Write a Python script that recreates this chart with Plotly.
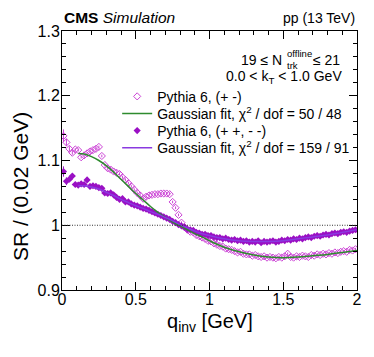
"""SR vs q_inv for Pythia 6 like-sign and unlike-sign pairs, CMS style."""

import numpy as np
import plotly.graph_objects as go

# bin centres of the q_inv histogram (0.02 GeV bins from 0 to 2 GeV)
BIN_WIDTH = 0.02
q_bins = np.round(np.arange(BIN_WIDTH / 2, 2.0, BIN_WIDTH), 3)

# Pythia 6, unlike-sign (+ -)
sr_unlike = [
    1.138, 1.128, 1.118, 1.112, 1.117, 1.116, 1.105, 1.108, 1.111, 1.114,
    1.116, 1.118, 1.121, 1.107, 1.093, 1.088, 1.086, 1.083, 1.081, 1.079,
    1.074, 1.070, 1.065, 1.060, 1.055, 1.050, 1.046, 1.041, 1.044, 1.046,
    1.047, 1.048, 1.048, 1.049, 1.049, 1.049, 1.048, 1.036, 1.027, 1.016,
    1.004, 0.997, 0.993, 0.990, 0.989, 0.985, 0.983, 0.981, 0.979, 0.976,
    0.975, 0.972, 0.970, 0.968, 0.967, 0.964, 0.963, 0.962, 0.960, 0.958,
    0.959, 0.956, 0.955, 0.955, 0.953, 0.954, 0.952, 0.951, 0.952, 0.950,
    0.951, 0.950, 0.949, 0.951, 0.950, 0.952, 0.956, 0.951, 0.950, 0.952,
    0.951, 0.953, 0.952, 0.951, 0.954, 0.953, 0.955, 0.954, 0.956, 0.955,
    0.957, 0.956, 0.958, 0.957, 0.959, 0.960, 0.959, 0.962, 0.961, 0.963,
]
err_unlike = [0.010, 0.006, 0.004, 0.003] + [0.002] * 96

# Pythia 6, like-sign (+ +, - -)
sr_like = [
    1.083, 1.068, 1.071, 1.076, 1.063, 1.062, 1.064, 1.063, 1.070, 1.060,
    1.061, 1.060, 1.058, 1.057, 1.050, 1.049, 1.050, 1.047, 1.043, 1.040,
    1.041, 1.036, 1.036, 1.033, 1.031, 1.030, 1.028, 1.026, 1.025, 1.023,
    1.021, 1.019, 1.017, 1.015, 1.013, 1.011, 1.009, 1.006, 1.004, 1.001,
    0.999, 0.997, 0.994, 0.993, 0.992, 0.989, 0.988, 0.986, 0.986, 0.984,
    0.984, 0.982, 0.981, 0.981, 0.979, 0.980, 0.978, 0.977, 0.978, 0.976,
    0.977, 0.975, 0.976, 0.974, 0.975, 0.974, 0.976, 0.973, 0.975, 0.974,
    0.975, 0.976, 0.974, 0.975, 0.977, 0.976, 0.978, 0.977, 0.979, 0.978,
    0.980, 0.979, 0.981, 0.982, 0.981, 0.983, 0.984, 0.983, 0.985, 0.986,
    0.985, 0.987, 0.988, 0.987, 0.989, 0.990, 0.989, 0.991, 0.992, 0.993,
]
err_like = [0.008, 0.006, 0.004, 0.003] + [0.002] * 96

# Gaussian fits, sampled along q_inv
fit_unlike_q = [0.11, 0.15, 0.20, 0.25, 0.30, 0.35, 0.40, 0.45, 0.50, 0.55,
                0.60, 0.65, 0.70, 0.75, 0.80, 0.85, 0.90, 0.95, 1.00, 1.10,
                1.20, 1.30, 1.40, 1.50, 1.60, 1.70, 1.80, 1.90, 2.00]
fit_unlike_sr = [1.111, 1.110, 1.106, 1.100, 1.092, 1.082, 1.071, 1.060, 1.049, 1.039,
                 1.029, 1.020, 1.012, 1.005, 0.999, 0.993, 0.987, 0.982, 0.976, 0.966,
                 0.959, 0.954, 0.951, 0.950, 0.951, 0.953, 0.955, 0.958, 0.961]

fit_like_q = fit_unlike_q
fit_like_sr = [1.061, 1.061, 1.059, 1.056, 1.051, 1.046, 1.040, 1.035, 1.030, 1.026,
               1.021, 1.017, 1.012, 1.007, 1.001, 0.996, 0.991, 0.987, 0.984, 0.979,
               0.976, 0.975, 0.975, 0.976, 0.979, 0.982, 0.985, 0.989, 0.993]

x_ticks = [0, 0.5, 1, 1.5, 2]
x_ticktext = ["0", "0.5", "1", "1.5", "2"]
y_ticks = [0.9, 1.0, 1.1, 1.2, 1.3]
y_ticktext = ["0.9", "1", "1.1", "1.2", "1.3"]

FONT = "Liberation Sans, Arial, Helvetica, sans-serif"
C_UNLIKE = "#cc44d6"
C_LIKE = "#9a10c4"
C_FIT_UNLIKE = "#2e8b2e"
C_FIT_LIKE = "#8a3ae0"

fig = go.Figure()

fig.add_trace(go.Scatter(
    x=q_bins, y=sr_unlike, mode="markers", name="Pythia 6, (+ -)",
    marker=dict(symbol="diamond-open", size=5.5, color=C_UNLIKE, line=dict(width=1)),
    error_y=dict(type="data", array=err_unlike, color=C_UNLIKE, thickness=1, width=0),
    legend="legend",
))
fig.add_trace(go.Scatter(
    x=q_bins, y=sr_like, mode="markers", name="Pythia 6, (+ +, - -)",
    marker=dict(symbol="diamond", size=5.5, color=C_LIKE),
    error_y=dict(type="data", array=err_like, color=C_LIKE, thickness=1, width=0),
    legend="legend3",
))
fig.add_trace(go.Scatter(
    x=fit_unlike_q, y=fit_unlike_sr, mode="lines",
    name="Gaussian fit, χ<sup>2</sup> / dof = 50 / 48",
    line=dict(color=C_FIT_UNLIKE, width=1.5, shape="spline"),
    legend="legend2",
))
fig.add_trace(go.Scatter(
    x=fit_like_q, y=fit_like_sr, mode="lines",
    name="Gaussian fit, χ<sup>2</sup> / dof = 159 / 91",
    line=dict(color=C_FIT_LIKE, width=1.5, shape="spline"),
    legend="legend4",
))

fig.add_hline(y=1.0, line=dict(color="#333333", width=1, dash="1px,1.5px"))

axis_common = dict(
    showline=True, linecolor="black", linewidth=1, mirror="ticks",
    ticks="inside", tickcolor="black", ticklen=8, showgrid=False, zeroline=False,
    tickfont=dict(family=FONT, size=16, color="black"),
)
fig.update_xaxes(
    range=[0, 2], tickvals=x_ticks, ticktext=x_ticktext, ticklabelstandoff=-5,
    minor=dict(ticks="inside", ticklen=4, dtick=0.1, tickcolor="black"),
    **axis_common,
)
fig.update_yaxes(
    range=[0.9, 1.3], tickvals=y_ticks, ticktext=y_ticktext, ticklabelstandoff=-2,
    minor=dict(ticks="inside", ticklen=4, dtick=0.02, tickcolor="black"),
    **axis_common,
)


def font(size):
    return dict(family=FONT, size=size, color="black")


txt = dict(xref="paper", yref="paper", showarrow=False)
fig.add_annotation(x=0, y=1.051, xanchor="left", yanchor="middle",
                   text="<b>CMS</b> <i>Simulation</i>", font=font(15.5), **txt)
fig.add_annotation(x=1, y=1.051, xanchor="right", yanchor="middle", text="pp (13 TeV)",
                   font=font(14), **txt)
fig.add_annotation(x=0.7525, y=0.889, xanchor="right", yanchor="middle", text="19 ≤ N",
                   font=font(14), **txt)
fig.add_annotation(x=0.756, y=0.914, xanchor="left", yanchor="middle", text="offline",
                   font=font(9.5), **txt)
fig.add_annotation(x=0.756, y=0.867, xanchor="left", yanchor="middle", text="trk",
                   font=font(9.5), **txt)
fig.add_annotation(x=0.843, y=0.889, xanchor="left", yanchor="middle", text="≤ 21",
                   font=font(14), **txt)
fig.add_annotation(x=0.957, y=0.822, xanchor="right", yanchor="middle",
                   text="0.0 < k<sub>T</sub> < 1.0 GeV", font=font(14), **txt)

# axis titles
fig.add_annotation(x=0.655, y=-0.126, xanchor="right", yanchor="middle",
                   text="q<sub>inv</sub> [GeV]", font=font(20), **txt)
fig.add_annotation(x=-0.14, y=0.4, xanchor="center", yanchor="middle", textangle=-90,
                   text="SR / (0.02 GeV)", font=font(21), **txt)

# one legend box per entry so the rows sit as in the original
leg = dict(x=0.187, xanchor="left", yanchor="middle", bgcolor="rgba(0,0,0,0)",
           font=font(14), itemwidth=30)
fig.update_layout(
    width=366, height=349,
    margin=dict(l=54, r=13, t=23, b=67),
    paper_bgcolor="white", plot_bgcolor="white",
    font=font(14),
    showlegend=True,
    legend=dict(y=0.746, **leg),
    legend2=dict(y=0.680, **leg),
    legend3=dict(y=0.614, **leg),
    legend4=dict(y=0.548, **leg),
)

fig.write_html("out.html")
